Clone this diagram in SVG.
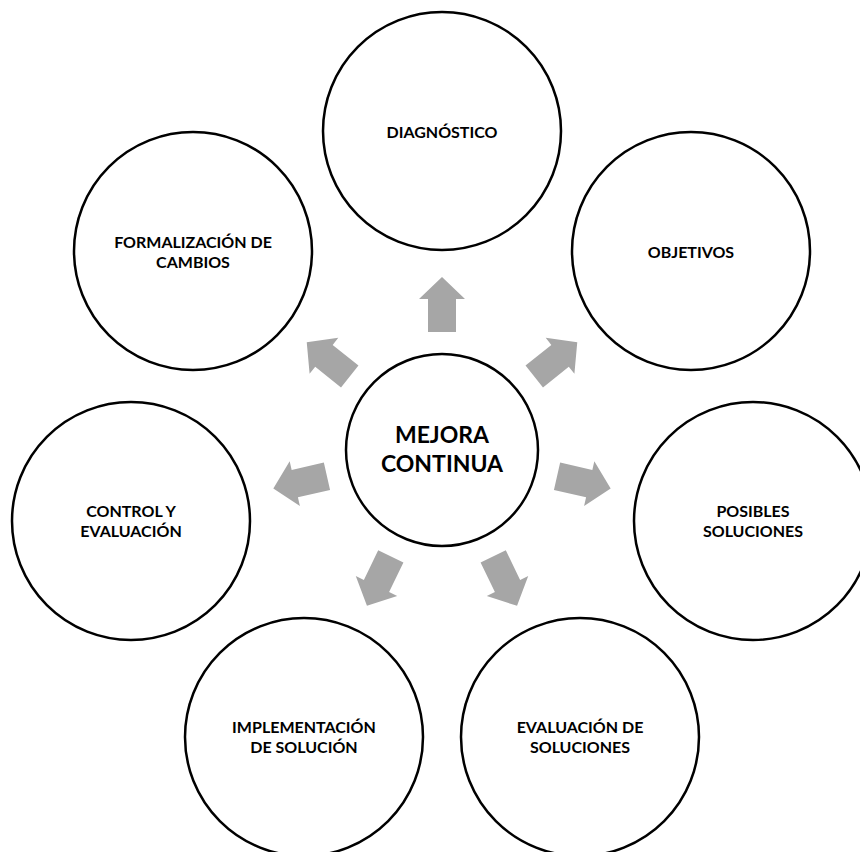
<svg xmlns="http://www.w3.org/2000/svg" width="860" height="852" viewBox="0 0 860 852">
<defs>
<style>
.c{fill:#fff;stroke:#000;stroke-width:2.5}
.t{font-family:Lato,"Liberation Sans",sans-serif;font-weight:bold;font-size:16px;fill:#000;text-anchor:middle}
.tc{font-family:Lato,"Liberation Sans",sans-serif;font-weight:bold;font-size:23px;fill:#000;text-anchor:middle}
.a{fill:#A6A6A6}
</style>
<polygon id="arr" points="118,-14 151,-14 151,-23 173,0 151,23 151,14 118,14"/>
</defs>
<rect width="860" height="852" fill="#fff"/>
<g id="connectors" class="a">
<use href="#arr" transform="translate(442,450) rotate(-90)"/>
<use href="#arr" transform="translate(442,450) rotate(-38.57)"/>
<use href="#arr" transform="translate(442,450) rotate(12.86)"/>
<use href="#arr" transform="translate(442,450) rotate(64.29)"/>
<use href="#arr" transform="translate(442,450) rotate(115.71)"/>
<use href="#arr" transform="translate(442,450) rotate(167.14)"/>
<use href="#arr" transform="translate(442,450) rotate(218.57)"/>
</g>
<g id="center">
<circle class="c" cx="442" cy="450" r="96"/>
<text class="tc" x="442" y="443">MEJORA</text>
<text class="tc" x="442" y="472">CONTINUA</text>
</g>
<g id="diagnostico">
<circle class="c" cx="442" cy="131" r="119"/>
<text class="t" x="442" y="138">DIAGNÓSTICO</text>
</g>
<g id="objetivos">
<circle class="c" cx="691" cy="251" r="119"/>
<text class="t" x="691" y="258">OBJETIVOS</text>
</g>
<g id="posibles">
<circle class="c" cx="753" cy="521" r="119"/>
<text class="t" x="753" y="517">POSIBLES</text>
<text class="t" x="753" y="537">SOLUCIONES</text>
</g>
<g id="evaluacion">
<circle class="c" cx="580" cy="737" r="119"/>
<text class="t" x="580" y="733">EVALUACIÓN DE</text>
<text class="t" x="580" y="753">SOLUCIONES</text>
</g>
<g id="implementacion">
<circle class="c" cx="304" cy="737" r="119"/>
<text class="t" x="304" y="733">IMPLEMENTACIÓN</text>
<text class="t" x="304" y="753">DE SOLUCIÓN</text>
</g>
<g id="control">
<circle class="c" cx="131" cy="521" r="119"/>
<text class="t" x="131" y="517">CONTROL Y</text>
<text class="t" x="131" y="537">EVALUACIÓN</text>
</g>
<g id="formalizacion">
<circle class="c" cx="193" cy="251" r="119"/>
<text class="t" x="193" y="248">FORMALIZACIÓN DE</text>
<text class="t" x="193" y="268">CAMBIOS</text>
</g>
</svg>
